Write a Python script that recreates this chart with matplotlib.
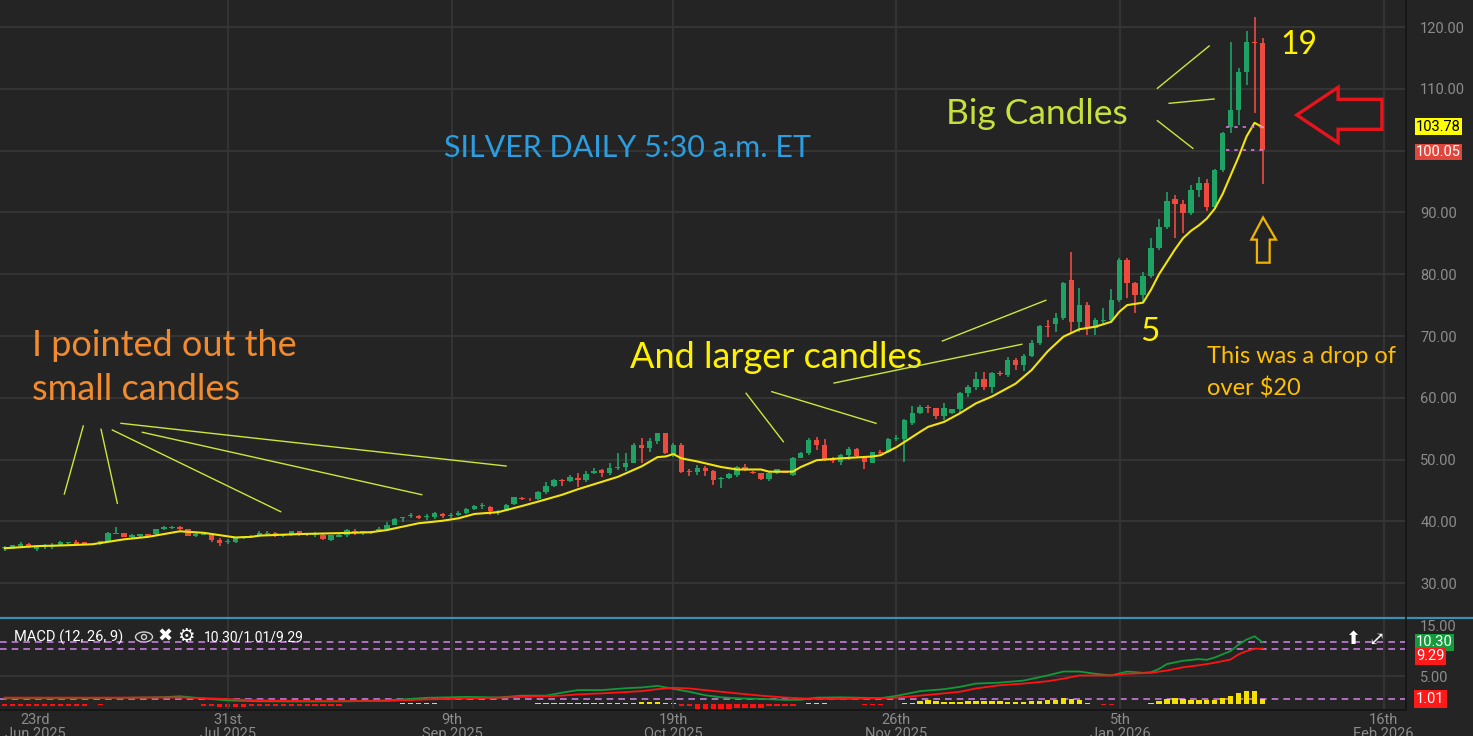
import matplotlib.pyplot as plt
from matplotlib.patches import Polygon, Ellipse
from matplotlib.lines import Line2D

# daily silver candles (one missing session after the 11th bar)
opens = [35.64, 35.85, 36.07, 36.39, 35.53, 35.85, 35.85, 36.18, 36.45, 36.61,
         36.61, 36.34, 36.88, 38.01, 38.12, 37.47, 37.69, 37.90, 37.90, 38.82,
         38.93, 39.09, 38.77, 37.69, 37.80, 37.80, 36.93, 36.68, 36.72, 37.42,
         37.47, 37.75, 38.02, 38.18, 37.64, 37.75, 38.40, 37.82, 37.86, 37.86,
         36.99, 37.53, 37.86, 38.40, 38.07, 38.30, 38.40, 38.72, 39.47, 40.50,
         40.93, 40.88, 40.72, 40.77, 41.20, 40.90, 41.09, 41.31, 41.96, 42.45,
         42.39, 41.50, 41.74, 42.82, 43.75, 43.70, 43.62, 44.76, 45.73, 46.70,
         46.54, 47.08, 46.70, 47.78, 48.32, 47.78, 48.70, 48.86, 49.50, 52.36,
         51.93, 53.01, 54.25, 50.91, 52.36, 48.10, 47.94, 48.59, 48.21, 46.90,
         46.97, 47.51, 48.75, 47.94, 47.78, 46.86, 47.78, 48.05, 47.51, 50.31,
         51.01, 53.17, 52.36, 50.10, 49.67, 50.74, 51.72, 50.31, 49.50, 51.28,
         51.18, 53.35, 53.39, 55.87, 57.49, 58.50, 58.30, 57.06, 57.48, 58.13,
         60.72, 61.80, 62.98, 61.80, 64.00, 63.69, 66.11, 65.30, 66.76, 68.92,
         71.61, 71.94, 72.96, 79.07, 72.32, 75.07, 71.25, 72.50, 72.60, 75.90,
         82.30, 78.53, 76.64, 79.72, 84.19, 87.59, 92.12, 91.31, 89.96, 93.63,
         94.70, 90.93, 96.87, 103.87, 106.57, 112.77, 117.63, 117.47]
highs = [36.07, 36.25, 36.61, 36.45, 36.00, 36.39, 36.50, 36.88, 36.70, 37.04,
         36.70, 36.90, 38.34, 39.04, 38.20, 38.01, 38.01, 38.00, 38.82, 39.31,
         39.20, 39.31, 38.85, 38.05, 38.05, 37.85, 37.25, 37.10, 37.30, 37.69,
         37.75, 38.45, 38.40, 38.25, 37.96, 38.45, 38.45, 37.90, 38.23, 37.90,
         37.80, 37.95, 38.83, 38.72, 38.50, 38.40, 39.04, 39.91, 40.50, 40.70,
         41.42, 40.99, 41.15, 41.58, 41.42, 41.31, 41.63, 42.17, 42.60, 42.93,
         42.45, 41.85, 42.80, 44.00, 43.95, 43.85, 44.90, 46.30, 46.85, 46.85,
         47.50, 47.78, 48.10, 48.59, 48.43, 49.40, 51.00, 51.00, 52.63, 53.44,
         53.44, 54.36, 54.30, 52.74, 52.63, 48.40, 49.13, 48.97, 48.25, 47.24,
         47.78, 48.97, 49.24, 48.10, 47.85, 47.95, 48.50, 48.15, 50.40, 51.30,
         53.50, 53.60, 53.40, 50.40, 50.90, 52.00, 51.80, 50.40, 51.30, 51.60,
         53.50, 53.90, 56.50, 58.70, 58.83, 58.90, 58.40, 59.10, 58.15, 61.00,
         62.07, 64.23, 64.23, 64.23, 64.30, 66.65, 66.38, 67.08, 69.35, 71.78,
         72.58, 73.66, 78.80, 83.65, 77.82, 75.55, 72.85, 74.50, 77.60, 82.56,
         82.70, 78.80, 80.40, 85.90, 88.90, 93.36, 92.82, 92.00, 94.44, 95.80,
         95.35, 97.00, 103.05, 117.63, 113.30, 119.40, 121.57, 118.30]
lows = [35.26, 35.53, 35.85, 35.70, 35.26, 35.58, 35.58, 36.07, 36.40, 36.18,
        36.25, 36.25, 36.72, 37.95, 37.40, 37.20, 37.42, 37.55, 37.85, 38.55,
        38.85, 38.55, 37.60, 37.47, 37.75, 36.72, 36.07, 36.29, 36.45, 37.20,
        37.42, 37.53, 37.64, 37.55, 37.43, 37.70, 37.60, 37.60, 37.53, 37.00,
        36.90, 37.43, 37.53, 37.75, 37.86, 37.98, 38.23, 38.50, 39.40, 39.91,
        40.50, 40.34, 40.28, 40.45, 40.61, 40.61, 40.93, 41.15, 41.85, 41.96,
        41.04, 41.04, 41.63, 42.70, 43.40, 43.30, 43.50, 44.45, 45.60, 45.65,
        46.40, 45.62, 46.32, 47.67, 47.24, 47.56, 48.32, 48.20, 49.40, 49.40,
        51.29, 52.47, 50.90, 50.48, 47.89, 47.35, 47.51, 47.35, 45.84, 45.35,
        46.80, 47.20, 48.20, 47.70, 46.70, 46.60, 47.60, 47.85, 47.40, 50.20,
        50.80, 51.50, 49.80, 49.50, 49.20, 49.90, 50.40, 48.40, 49.40, 50.90,
        51.10, 53.00, 49.67, 55.60, 57.30, 57.48, 56.60, 56.40, 57.30, 57.50,
        60.20, 61.26, 61.26, 60.72, 63.50, 63.42, 64.50, 64.33, 66.65, 68.54,
        69.90, 70.70, 72.58, 70.43, 70.70, 70.20, 70.15, 72.05, 72.05, 75.55,
        76.10, 73.70, 75.30, 79.35, 83.92, 87.27, 85.80, 86.60, 89.60, 92.44,
        90.28, 90.50, 96.60, 102.80, 104.14, 110.60, 106.03, 94.60]
closes = [35.85, 36.18, 36.39, 35.80, 35.96, 36.12, 36.18, 36.61, 36.61, 36.34,
          36.34, 36.82, 38.12, 38.17, 37.47, 37.80, 37.90, 37.63, 38.77, 39.09,
          39.09, 38.77, 37.69, 38.01, 38.01, 36.93, 36.50, 36.76, 37.25, 37.50,
          37.69, 38.18, 38.10, 37.64, 37.86, 38.40, 37.75, 37.72, 38.07, 37.10,
          37.75, 37.86, 38.61, 38.07, 38.40, 38.07, 38.83, 39.47, 40.45, 40.66,
          41.02, 40.61, 40.80, 41.31, 40.88, 40.98, 41.42, 41.96, 42.49, 42.53,
          41.63, 41.63, 42.71, 43.89, 43.60, 43.55, 44.81, 45.73, 46.70, 46.54,
          47.24, 46.70, 47.62, 48.21, 47.78, 48.59, 48.75, 49.50, 52.36, 51.93,
          53.01, 54.25, 51.01, 52.36, 48.05, 47.94, 48.59, 48.21, 46.70, 46.97,
          47.62, 48.75, 48.43, 47.78, 46.86, 47.78, 48.43, 47.90, 50.31, 51.01,
          53.17, 52.36, 49.93, 49.77, 50.74, 51.72, 50.58, 49.67, 51.18, 51.01,
          53.39, 53.44, 56.41, 57.49, 58.57, 58.30, 57.06, 58.30, 58.13, 60.72,
          61.80, 62.98, 61.80, 63.96, 63.85, 66.11, 65.30, 66.76, 68.92, 71.61,
          71.40, 72.91, 78.52, 72.32, 75.07, 71.25, 72.60, 72.65, 75.90, 82.30,
          78.53, 76.64, 79.72, 84.19, 87.59, 91.90, 91.31, 89.85, 93.63, 94.70,
          90.93, 96.87, 102.90, 106.57, 112.77, 117.63, 117.47, 100.05]
slots = list(range(0, 11)) + list(range(12, 159))

# yellow moving average (sampled along the line)
ma_slots = [0, 4, 7, 11, 12, 15, 18, 22, 25, 29, 31, 32, 37, 42, 46, 48, 50, 52, 55, 57,
            59, 62, 65, 67, 70, 72, 75, 77, 80, 82, 83, 84, 85, 87, 90, 92, 95, 96, 99,
            100, 102, 105, 109, 110, 112, 115, 116, 118, 120, 122, 124, 127, 129, 131,
            133, 135, 137, 139, 140, 141, 143, 144, 145, 146, 147, 148, 149, 150, 151,
            152, 153, 154, 155, 156, 157, 158]
ma_vals = [35.65, 36.0, 36.1, 36.3, 36.5, 37.1, 37.5, 38.4, 38.15, 37.4, 37.5, 37.7,
           37.95, 38.1, 38.25, 38.6, 39.15, 39.7, 40.1, 40.5, 41.2, 41.5, 42.5, 43.2,
           44.3, 45.2, 46.4, 47.2, 48.9, 50.4, 50.5, 50.9, 50.2, 49.7, 48.8, 48.4, 48.4,
           48.05, 48.05, 48.8, 49.9, 50.2, 50.5, 50.7, 52.0, 54.5, 55.3, 56.1, 57.5,
           59.1, 60.2, 62.3, 64.5, 67.5, 69.9, 71.1, 71.5, 72.3, 73.9, 75.0, 75.4, 77.5,
           80.0, 82.0, 84.0, 85.8, 87.0, 87.9, 89.0, 90.6, 93.0, 96.0, 99.0, 102.3,
           104.5, 103.78]

# MACD (12, 26, 9)
macd_slots = [0, 5, 10, 15, 20, 22, 25, 28, 32, 38, 43, 48, 53, 58, 62, 65, 68, 70, 72,
              75, 78, 80, 82, 84, 86, 88, 90, 92, 95, 98, 100, 102, 105, 108, 110, 112,
              115, 118, 120, 122, 125, 128, 131, 133, 135, 137, 139, 141, 143, 144, 145,
              146, 148, 150, 151, 152, 154, 155, 156, 157, 158]
macd_line = [1.53, 1.53, 1.55, 1.6, 1.7, 1.84, 1.5, 1.2, 1.05, 1.02, 1.05, 1.2, 1.6,
             1.75, 1.65, 1.94, 1.94, 2.4, 2.81, 2.81, 3.1, 3.22, 3.47, 3.0, 2.55, 2.0,
             1.68, 1.53, 1.43, 1.28, 1.3, 1.63, 1.68, 1.6, 1.55, 1.9, 2.65, 2.95, 3.32,
             3.83, 3.98, 4.3, 5.1, 5.72, 5.72, 5.36, 5.1, 5.72, 5.51, 5.61, 6.13, 6.89,
             7.4, 7.66, 7.55, 7.91, 8.93, 9.95, 10.72, 11.23, 10.30]
signal_line = [1.63, 1.63, 1.63, 1.63, 1.65, 1.65, 1.55, 1.4, 1.2, 1.1, 1.08, 1.1, 1.35,
               1.5, 1.63, 1.75, 1.85, 1.94, 2.14, 2.3, 2.5, 2.65, 2.96, 3.17, 3.07, 2.8,
               2.55, 2.3, 1.94, 1.65, 1.53, 1.43, 1.43, 1.48, 1.53, 1.63, 1.94, 2.3,
               2.55, 3.07, 3.57, 3.83, 4.2, 4.6, 5.1, 5.1, 5.1, 5.36, 5.46, 5.5, 5.7,
               5.87, 6.38, 6.7, 6.89, 7.1, 7.6, 8.42, 8.9, 9.29, 9.29]
histogram = [-0.25, -0.25, -0.25, -0.25, -0.25, -0.25, -0.25, -0.25, -0.25, -0.25,
             -0.25, -0.2, 0, 0, 0, 0, 0, 0, 0, 0,
             0, 0, 0, 0, -0.25, -0.25, -0.6, -0.6, -0.6, -0.6,
             -0.35, -0.35, -0.35, -0.35, -0.35, -0.35, -0.35, -0.35, -0.35, -0.35,
             -0.35, -0.35, 0, 0, 0, 0, 0, 0, 0, 0.2,
             0.2, 0.2, 0.2, 0.2, 0, 0, 0, 0, 0, 0,
             0, 0, 0, 0, 0, 0, 0.3, 0.3, 0.3, 0.3,
             0.3, 0.3, 0.3, 0.3, 0.3, 0.3, 0.3, 0.3, 0.3, 0.5,
             0.5, 0.5, 0.3, 0.3, -0.25, -0.25, -1.0, -1.0, -1.0, -1.0,
             -1.0, -0.65, -0.65, -0.65, -0.65, -0.25, -0.25, -0.25, -0.25, 0,
             0.2, 0.2, 0.2, 0, 0, 0, 0, -0.2, -0.2, -0.2,
             0, 0, 0.2, 0.2, 0.6, 0.8, 0.6, 0.5, 0.5, 0.5,
             0.6, 0.7, 0.6, 0.6, 0.6, 0.4, 0.5, 0.5, 0.6, 0.7,
             0.8, 0.8, 1.2, 1.0, 0.8, 0.3, 0, -0.2, -0.2, 0.15,
             0.15, 0, 0, 0.2, 0.7, 1.0, 1.3, 1.0, 0.95, 0.95,
             0.95, 0.95, 1.2, 1.65, 2.2, 2.65, 2.65, 1.01]

date_tick_slots = [3.8, 28.05, 56.2, 84.0, 112.0, 140.1, 173.2]
date_labels = ['23rd\nJun 2025', '31st\nJul 2025', '9th\nSep 2025', '19th\nOct 2025',
               '26th\nNov 2025', '5th\nJan 2026', '16th\nFeb 2026']
price_ticks = [30, 40, 50, 60, 70, 80, 90, 100, 110, 120]
# the 100.00 label sits under the last-price tag, so it is not shown
price_labels = ['30.00', '40.00', '50.00', '60.00', '70.00', '80.00', '90.00', '',
                '110.00', '120.00']

# hand-drawn annotation strokes, in (slot, price)
strokes = [((7.49, 44.43), (9.87, 55.44)), ((12.1, 54.9), (14.15, 42.93)),
           ((13.52, 54.79), (34.67, 41.57)), ((17.29, 54.42), (52.39, 44.32)),
           ((14.61, 55.87), (62.98, 48.96)), ((93.13, 60.73), (97.81, 52.9)),
           ((96.36, 60.99), (109.46, 55.87)), ((104.18, 62.39), (127.76, 68.66)),
           ((117.79, 69.19), (130.78, 75.78)), ((144.8, 110.08), (151.3, 116.93)),
           ((146.27, 107.65), (151.92, 108.35)), ((144.8, 104.84), (149.25, 100.37))]
red_arrow = [(162.3, 105.76), (167.5, 110.24), (167.5, 108.3), (173.0, 108.3),
             (173.0, 103.45), (167.5, 103.45), (167.5, 101.28)]
up_arrow = [(158.07, 89.18), (156.6, 85.6), (157.3, 85.6), (157.3, 81.86),
            (158.9, 81.86), (158.9, 85.6), (159.7, 85.6)]

BG = '#242424'
GRID = '#363636'
UP, DOWN = '#1fa364', '#ee4a3e'
W, H = 1473, 736

plt.rcParams['font.family'] = ['Roboto', 'DejaVu Sans']
fig = plt.figure(figsize=(W / 100, H / 100), dpi=100, facecolor=BG)
ax = fig.add_axes([0, 1 - 617 / H, 1405 / W, 617 / H], facecolor=BG)
axm = fig.add_axes([0, 1 - 709 / H, 1405 / W, 90 / H], facecolor=BG)
axh = axm.twinx()

for a in (ax, axm, axh):
    for s in a.spines.values():
        s.set_visible(False)

# candles
cols = [UP if c >= o else DOWN for o, c in zip(opens, closes)]
ax.vlines(slots, lows, highs, colors=cols, lw=1.2, zorder=3)
bottoms = [min(o, c) for o, c in zip(opens, closes)]
heights = [max(abs(c - o), 0.15) for o, c in zip(opens, closes)]
ax.bar(slots, heights, bottom=bottoms, width=0.68, color=cols, zorder=4)
ax.plot(ma_slots, ma_vals, color='#f2e40c', lw=1.5, zorder=5)
ax.hlines([103.78, 100.05], 153.4, 158.6, colors='#e070e8', linestyles=(0, (2, 3)),
          lw=1.2, zorder=6)

ax.set_xlim(-0.59, 175.9)
ax.set_ylim(24.53, 124.37)
ax.set_yticks(price_ticks, price_labels)
ax.yaxis.tick_right()
ax.tick_params(axis='y', length=0, pad=11, labelcolor='#8c8c8c', labelsize=10.5)
ax.set_xticks(date_tick_slots)
ax.tick_params(axis='x', length=0, labelbottom=False)
ax.grid(True, color=GRID, lw=1.3)
ax.get_xgridlines()[0].set_visible(False)

# drawings
for (x0, y0), (x1, y1) in strokes:
    ax.plot([x0, x1], [y0, y1], color='#cde63a', lw=1, zorder=7)

tf = ['Lato', 'DejaVu Sans']
ax.text(78.2, 100.4, 'SILVER DAILY 5:30 a.m. ET', color='#2a9ee0', fontsize=22,
        ha='center', va='center', family=tf)
ax.text(3.43, 64.9, 'I pointed out the\nsmall candles', color='#f28a2e', fontsize=26,
        ha='left', va='center', linespacing=1.42, family=tf)
ax.text(78.56, 66.6, 'And larger candles', color='#fff200', fontsize=26,
        ha='left', va='center', family=tf)
ax.text(118.25, 105.9, 'Big Candles', color='#c8e03c', fontsize=25.5,
        ha='left', va='center', family=tf)
ax.text(160.3, 117.1, '19', color='#fff200', fontsize=23, ha='left', va='center', family=tf)
ax.text(142.6, 70.6, '5', color='#fff200', fontsize=24, ha='left', va='center', family=tf)
ax.text(151.04, 64.1, 'This was a drop of\nover $20', color='#ffc000', fontsize=17,
        ha='left', va='center', linespacing=1.6, family=tf)

ax.add_patch(Polygon(red_arrow, closed=True, fill=False, ec='#e8141c', lw=2.4, zorder=8))
ax.add_patch(Polygon(up_arrow, closed=True, fill=False, ec='#f0b400', lw=1.6, zorder=8))

for txt, val, dy, fc, tc in [('103.78', 103.78, 0.5, '#ffff00', 'black'),
                             ('100.05', 100.05, -1.2, '#e0463b', 'white')]:
    ax.annotate(txt, xy=(1, val), xycoords=ax.get_yaxis_transform(), xytext=(8, dy),
                textcoords='offset points', ha='left', va='center', fontsize=10.5,
                color=tc, bbox=dict(boxstyle='square,pad=0.1', fc=fc, ec='none'),
                annotation_clip=False)

# MACD panel
hcols = ['#f5e100' if v >= 0 else '#ff1010' for v in histogram]
axh.bar(slots, histogram, width=0.68, color=hcols, zorder=2)
axh.set_ylim(-0.94, 17.06)
axh.set_yticks([])
axh.axhline(1.01, color='#c97be0', lw=1.2, ls=(0, (4, 3)), zorder=1)

axm.plot(macd_slots, macd_line, color='#119a3a', lw=1.3, zorder=4)
axm.plot(macd_slots, signal_line, color='#ff1414', lw=1.3, zorder=5)
axm.axhline(10.30, color='#c97be0', lw=1.2, ls=(0, (4, 3)), zorder=1)
axm.axhline(9.29, color='#c97be0', lw=1.2, ls=(0, (4, 3)), zorder=1)
axm.set_xlim(-0.59, 175.9)
axm.set_ylim(-0.15, 13.94)
axm.set_yticks([5], ['5.00'])
axm.yaxis.tick_right()
axm.tick_params(axis='y', length=0, pad=11, labelcolor='#8c8c8c', labelsize=10.5)
axm.set_xticks(date_tick_slots, date_labels)
axm.tick_params(axis='x', length=0, pad=3, labelcolor='#8c8c8c', labelsize=10.5)
for lab in axm.get_xticklabels():
    lab.set_linespacing(1.0)
axm.grid(True, color=GRID, lw=1.3)
axm.get_xgridlines()[0].set_visible(False)
axm.set_zorder(axh.get_zorder() + 1)
axm.patch.set_visible(False)
axh.patch.set_facecolor(BG)

for txt, val, dy, fc in [('10.30', 10.30, 0, '#149c3c'), ('9.29', 9.29, -5.5, '#ff1a1a')]:
    axm.annotate(txt, xy=(1, val), xycoords=axm.get_yaxis_transform(), xytext=(8, dy),
                 textcoords='offset points', ha='left', va='center', fontsize=10.5,
                 color='white', bbox=dict(boxstyle='square,pad=0.1', fc=fc, ec='none'),
                 annotation_clip=False)
axh.annotate('1.01', xy=(1, 1.01), xycoords=axh.get_yaxis_transform(), xytext=(8, 0),
             textcoords='offset points', ha='left', va='center', fontsize=10.5,
             color='white', bbox=dict(boxstyle='square,pad=0.15', fc='#ff1a1a', ec='none'),
             annotation_clip=False)
fig.text(1420 / W, 1 - 627 / H, '15.00', color='#8c8c8c', fontsize=10.5, va='center')

fig.text(14 / W, 1 - 637 / H, 'MACD (12, 26, 9)', color='white', fontsize=10.5, va='center')
fig.add_artist(Ellipse((144 / W, 1 - 637 / H), 17 / W, 10 / H, transform=fig.transFigure,
                       fill=False, ec='#d0d0d0', lw=1))
fig.add_artist(Ellipse((144 / W, 1 - 637 / H), 5 / W, 5 / H, transform=fig.transFigure,
                       fill=False, ec='#d0d0d0', lw=1))
fig.text(165 / W, 1 - 637 / H, '\u2716', color='white', fontsize=13, ha='center', va='center')
fig.text(186 / W, 1 - 637 / H, '\u2699', color='white', fontsize=14, ha='center', va='center')
fig.text(204 / W, 1 - 637 / H, '10.30/1.01/9.29', color='white', fontsize=10, va='center')
fig.text(1353 / W, 1 - 639 / H, '\u2b06', color='white', fontsize=13, ha='center', va='center')
fig.text(1376 / W, 1 - 639 / H, '\u2922', color='white', fontsize=14, ha='center',
         va='center', family=['DejaVu Sans', 'DejaVu Serif', 'DejaVu Sans Mono', 'Inter',
                              'Noto Sans CJK SC', 'Liberation Sans', 'Open Sans'])

# panel frame lines
fig.add_artist(Line2D([0, 1], [1 - 617.5 / H] * 2, transform=fig.transFigure,
                      color='#3f8fb5', lw=1.6))
fig.add_artist(Line2D([1405.5 / W] * 2, [1 - 709 / H, 1], transform=fig.transFigure,
                      color='#141414', lw=1.2))
fig.add_artist(Line2D([0, 1405.5 / W], [1 - 709.5 / H] * 2, transform=fig.transFigure,
                      color='#141414', lw=1.2))

fig.savefig('out.png', dpi=100, facecolor=BG)
